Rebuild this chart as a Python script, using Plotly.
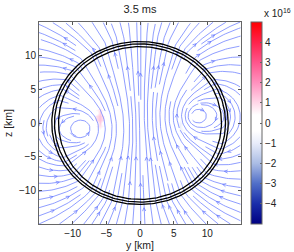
import numpy as np
import plotly.graph_objects as go
import plotly.figure_factory as ff

# ---------------- data ----------------
title_text = "3.5 ms"
axis_range = [-15, 15]
axis_ticks = [-10, -5, 0, 5, 10]
cbar_ticks = [-4, -3, -2, -1, 0, 1, 2, 3, 4]
cbar_range = [-5, 5]          # in units of 1e16

# current ring producing the field lines (O-points seen in the picture)
ring_y_right = 8.2
ring_z_left = -0.77
ring_z_right = 0.97
ring_core = 1.0
# uniform field inside the star (fraction of ring's central field) + its exterior dipole
core_field = 0.15
core_radius = 12.5

# stellar surface contours (semi-axes along y and z, km)
shell_ay = [13.1, 12.7, 12.1]
shell_az = [12.1, 11.75, 11.35]

# colour-field blobs (y, z, value in 1e16)
blob_y = [-6.0, -6.0, -6.0, -6.0, -6.0, -6.0, -6.0, -6.0,
          -6.5, -6.5, -6.5, -6.5, -5.5, -5.5, -5.5, -5.5,
          6.0, 6.0, 6.0, 6.0, 6.0, 6.5, 6.5]
blob_z = [-1.0, -0.5, 0.0, 0.5, 1.0, 1.5, 2.0, 2.5,
          -0.5, 0.5, 1.0, 2.0, -0.5, 0.5, 1.0, 2.0,
          -1.5, -1.0, -0.5, 0.0, 0.5, -1.0, 0.0]
blob_val = [0.4, 0.8, 1.1, 1.25, 1.25, 1.1, 0.8, 0.4,
            0.5, 0.8, 0.8, 0.5, 0.5, 0.8, 0.8, 0.5,
            -0.5, -0.8, -0.9, -0.8, -0.5, -0.5, -0.5]

# ---------------- field of the ring (Biot-Savart) ----------------
gy = np.linspace(axis_range[0], axis_range[1], 121)
gz = np.linspace(axis_range[0], axis_range[1], 121)
YY, ZZ = np.meshgrid(gy, gz)
nphi = 240
phi = np.linspace(0, 2 * np.pi, nphi, endpoint=False)
dphi = 2 * np.pi / nphi
zc = 0.5 * (ring_z_left + ring_z_right)
dzr = 0.5 * (ring_z_right - ring_z_left)
R = ring_y_right
# warp: O-point heights differ while the ring normal stays nearly vertical
warp = 0.3 * np.cos(phi) + 0.7 * np.cos(3 * phi)
dwarp = -0.3 * np.sin(phi) - 2.1 * np.sin(3 * phi)
LX = R * np.sin(phi)
LY = R * np.cos(phi)
LZ = zc + dzr * warp
dlx = R * np.cos(phi) * dphi
dly = -R * np.sin(phi) * dphi
dlz = dzr * dwarp * dphi
BY = np.zeros_like(YY)
BZ = np.zeros_like(YY)
for i in range(nphi):
    dx = -LX[i]
    dy = YY - LY[i]
    dz = ZZ - LZ[i]
    den = (dx * dx + dy * dy + dz * dz + ring_core ** 2) ** 1.5
    BY += (dlz[i] * dx - dlx[i] * dz) / den
    BZ += (dlx[i] * dy - dly[i] * dx) / den
if BZ[60, 60] < 0:
    BY, BZ = -BY, -BZ

B0 = core_field * BZ[60, 60]
Zr = ZZ - zc
rr = np.sqrt(YY ** 2 + Zr ** 2)
mdip = B0 * core_radius ** 3 / 2
inside = rr < core_radius
BY = BY + np.where(inside, 0.0, mdip * 3 * Zr * YY / rr ** 5)
BZ = BZ + np.where(inside, B0, mdip * (3 * Zr ** 2 - rr ** 2) / rr ** 5)

stream = ff.create_streamline(gy, gz, BY, BZ, density=1.7, arrow_scale=0.55,
                              angle=np.pi / 7,
                              line=dict(color="rgb(95,115,255)", width=0.7))

# ---------------- heatmap ----------------
hx = np.arange(axis_range[0], axis_range[1] + 0.01, 0.5)
H = np.zeros((len(hx), len(hx)))
for by, bz, bv in zip(blob_y, blob_z, blob_val):
    iy = int(round((by - hx[0]) / 0.5))
    iz = int(round((bz - hx[0]) / 0.5))
    H[iz, iy] = bv

cscale = [
    [0.0, "rgb(0,0,130)"],
    [0.1, "rgb(25,45,170)"],
    [0.2, "rgb(80,110,200)"],
    [0.3, "rgb(170,188,228)"],
    [0.4, "rgb(232,236,250)"],
    [0.46, "rgb(255,255,255)"],
    [0.54, "rgb(255,255,255)"],
    [0.6, "rgb(255,215,232)"],
    [0.7, "rgb(255,145,190)"],
    [0.8, "rgb(255,85,140)"],
    [0.9, "rgb(255,35,75)"],
    [1.0, "rgb(255,0,0)"],
]

fig = go.Figure()
fig.add_trace(go.Heatmap(
    x=hx, y=hx, z=H, zmin=cbar_range[0], zmax=cbar_range[1],
    colorscale=cscale, zsmooth="best", hoverinfo="skip",
    colorbar=dict(
        x=(251 - 39) / 202, xanchor="left", xpad=0, ypad=0,
        y=0.5, yanchor="middle", len=1, lenmode="fraction",
        thickness=11, outlinecolor="#666", outlinewidth=1,
        tickvals=cbar_ticks, ticks="inside", ticklen=2, tickcolor="#666",
        tickfont=dict(family="Liberation Sans", size=10, color="#222"),
    ),
))
for tr in stream.data:
    tr.showlegend = False
    tr.hoverinfo = "skip"
    fig.add_trace(tr)

t = np.linspace(0, 2 * np.pi, 300)
for ay, az in zip(shell_ay, shell_az):
    fig.add_trace(go.Scatter(x=ay * np.cos(t), y=az * np.sin(t), mode="lines",
                             line=dict(color="black", width=1.3),
                             showlegend=False, hoverinfo="skip"))

axis_common = dict(range=axis_range, tickvals=axis_ticks, ticks="inside",
                   ticklen=3, tickcolor="#555", showline=True, linecolor="#666",
                   linewidth=1, mirror="ticks", showgrid=False, zeroline=False,
                   tickfont=dict(family="Liberation Sans", size=10, color="#222"))
fig.update_xaxes(**axis_common)
fig.update_yaxes(**axis_common)

fig.update_layout(
    width=294, height=252,
    margin=dict(l=39, r=53, t=22, b=28),
    paper_bgcolor="white", plot_bgcolor="white",
    title=dict(text=title_text, x=0.5, xref="paper", xanchor="center",
               y=1 - 9.5 / 252, yref="container", yanchor="middle",
               font=dict(family="Liberation Sans", size=11, color="#222")),
    annotations=[
        dict(text="y [km]", x=0.5, xref="paper", y=-20.5 / 202, yref="paper",
             xanchor="center", yanchor="middle", showarrow=False,
             font=dict(family="Liberation Sans", size=10.5, color="#222")),
        dict(text="z [km]", x=-31 / 202, xref="paper", y=0.5, yref="paper",
             xanchor="center", yanchor="middle", showarrow=False, textangle=-90,
             font=dict(family="Liberation Sans", size=10.5, color="#222")),
        dict(text="x 10<sup>16</sup>", x=(262 - 39) / 202, xref="paper",
             y=1 + 9 / 202, yref="paper", xanchor="left", yanchor="middle",
             showarrow=False,
             font=dict(family="Liberation Sans", size=10, color="#222")),
    ],
)

fig.write_html("out.html",
               config={"displayModeBar": False, "staticPlot": True},
               post_script="document.body.style.margin='0';"
                           "document.body.style.padding='0';")
